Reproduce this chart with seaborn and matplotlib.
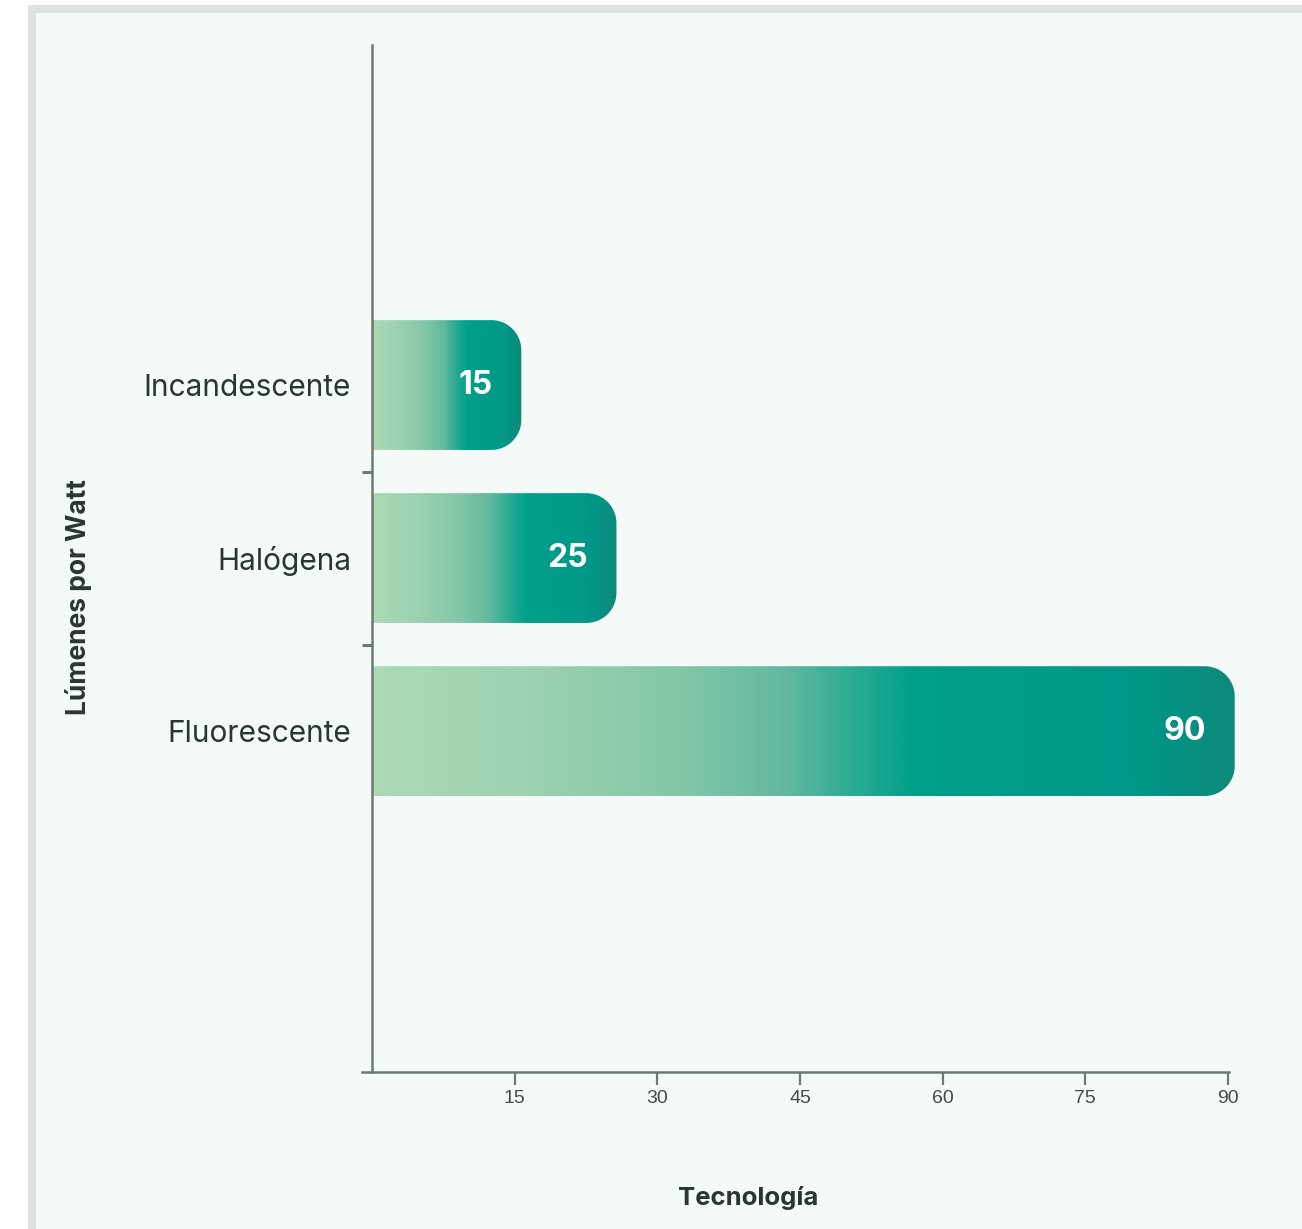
import numpy as np
import pandas as pd
import seaborn as sns
from matplotlib import pyplot as plt
from matplotlib.colors import LinearSegmentedColormap
from matplotlib.patches import PathPatch, Rectangle
from matplotlib.path import Path

categories = ["Incandescente", "Halógena", "Fluorescente"]
values = [15, 25, 90]
x_ticks = [15, 30, 45, 60, 75, 90]
x_label = "Tecnología"
y_label = "Lúmenes por Watt"

W, H = 1302, 1229
AXIS_COLOR = "#6d7873"
TEXT_COLOR = "#2b3531"

sns.set_theme(style="white")
plt.rcParams["font.family"] = ["Inter", "DejaVu Sans"]

grad = LinearSegmentedColormap.from_list(
    "bar_grad",
    [(0.0, "#acd9b6"), (0.18, "#9cd2b0"), (0.36, "#82c6a8"), (0.48, "#62b99f"),
     (0.56, "#2aab93"), (0.63, "#00a08a"), (0.88, "#009888"), (1.0, "#0c8a7a")],
)


def rounded_right_path(x0, x1, y0, y1, rx, ry, n=16):
    # rectangle with the two right-hand corners rounded
    t1 = np.linspace(-np.pi / 2, 0, n)
    t2 = np.linspace(0, np.pi / 2, n)
    pts = [(x0, y0), (x1 - rx, y0)]
    pts += list(zip(x1 - rx + rx * np.cos(t1), y0 + ry + ry * np.sin(t1)))
    pts += list(zip(x1 - rx + rx * np.cos(t2), y1 - ry + ry * np.sin(t2)))
    pts += [(x0, y1), (x0, y0)]
    codes = [Path.MOVETO] + [Path.LINETO] * (len(pts) - 2) + [Path.CLOSEPOLY]
    return Path(pts, codes)


fig = plt.figure(figsize=(W / 100, H / 100), dpi=100)
fig.patch.set_facecolor("white")
fig.patches.append(Rectangle((28 / W, 0), 1, 1 - 5 / H, transform=fig.transFigure,
                             facecolor="#e1e1e1", edgecolor="none", zorder=-10))
fig.patches.append(Rectangle((36 / W, 0), 1, 1 - 13 / H, transform=fig.transFigure,
                             facecolor="#f4faf8", edgecolor="none", zorder=-9))

ax = fig.add_axes([362 / W, 1 - 1072 / H, (1229 - 362) / W, (1072 - 45) / H])
ax.set_facecolor("none")

df = pd.DataFrame({"tech": categories, "lm": values})
sns.barplot(data=df, x="lm", y="tech", orient="h", width=0.75, ax=ax)

xlim = (-1.05, 90.1)
ylim = (3.97, -1.965)
ax.set_xlim(*xlim)
ax.set_ylim(*ylim)

# corner radius ~30 px expressed in data units
px_x = (1229 - 362) / (xlim[1] - xlim[0])
px_y = (1072 - 45) / (ylim[0] - ylim[1])
rx, ry = 30 / px_x, 30 / px_y

gradient = np.linspace(0, 1, 256).reshape(1, -1)
for bar, val in zip(list(ax.patches), values):
    x0, y0 = bar.get_x(), bar.get_y()
    x1, y1 = x0 + bar.get_width() + 0.7, y0 + bar.get_height()
    bar.set_visible(False)
    clip = PathPatch(rounded_right_path(x0, x1, y0, y1, rx, ry),
                     facecolor="none", edgecolor="none", transform=ax.transData)
    ax.add_patch(clip)
    im = ax.imshow(gradient, cmap=grad, aspect="auto", extent=(x0, x1, y1, y0),
                   interpolation="bicubic", zorder=1)
    im.set_clip_path(clip)
    im.set_clip_box(fig.bbox)
    ax.text(x1 - 3.0, (y0 + y1) / 2, f"{val}", ha="right", va="center",
            color="white", fontsize=23, fontweight="bold", zorder=3)

ax.set_xlim(*xlim)
ax.set_ylim(*ylim)

for side in ["top", "right"]:
    ax.spines[side].set_visible(False)
for side in ["left", "bottom"]:
    ax.spines[side].set_color(AXIS_COLOR)
    ax.spines[side].set_linewidth(1.8)
    ax.spines[side].set_zorder(4)
ax.spines["left"].set_position(("data", 0))

ax.set_xticks(x_ticks)
ax.set_xticklabels([str(t) for t in x_ticks], fontsize=14,
                   family=["Liberation Sans", "DejaVu Sans"],
                   color="#444b48")
ax.tick_params(axis="x", bottom=True, length=9, width=1.6, color=AXIS_COLOR, pad=4)

ax.set_yticks([0.5, 1.5])
ax.set_yticklabels([])
ax.tick_params(axis="y", left=True, length=7, width=2.2, color=AXIS_COLOR)
ax.set_yticks(range(len(categories)), minor=True)
ax.set_yticklabels(categories, minor=True, fontsize=21.5, color=TEXT_COLOR)
ax.tick_params(axis="y", which="minor", left=False, length=0, pad=15)

ax.set_xlabel("")
ax.set_ylabel("")
fig.text(748 / W, 1 - 1198 / H, x_label, ha="center", va="center",
         fontsize=18.5, fontweight="bold", color=TEXT_COLOR)
fig.text(78 / W, 1 - 597 / H, y_label, ha="center", va="center", rotation=90,
         fontsize=19, fontweight="bold", color=TEXT_COLOR)

fig.savefig("out.png", dpi=100)
